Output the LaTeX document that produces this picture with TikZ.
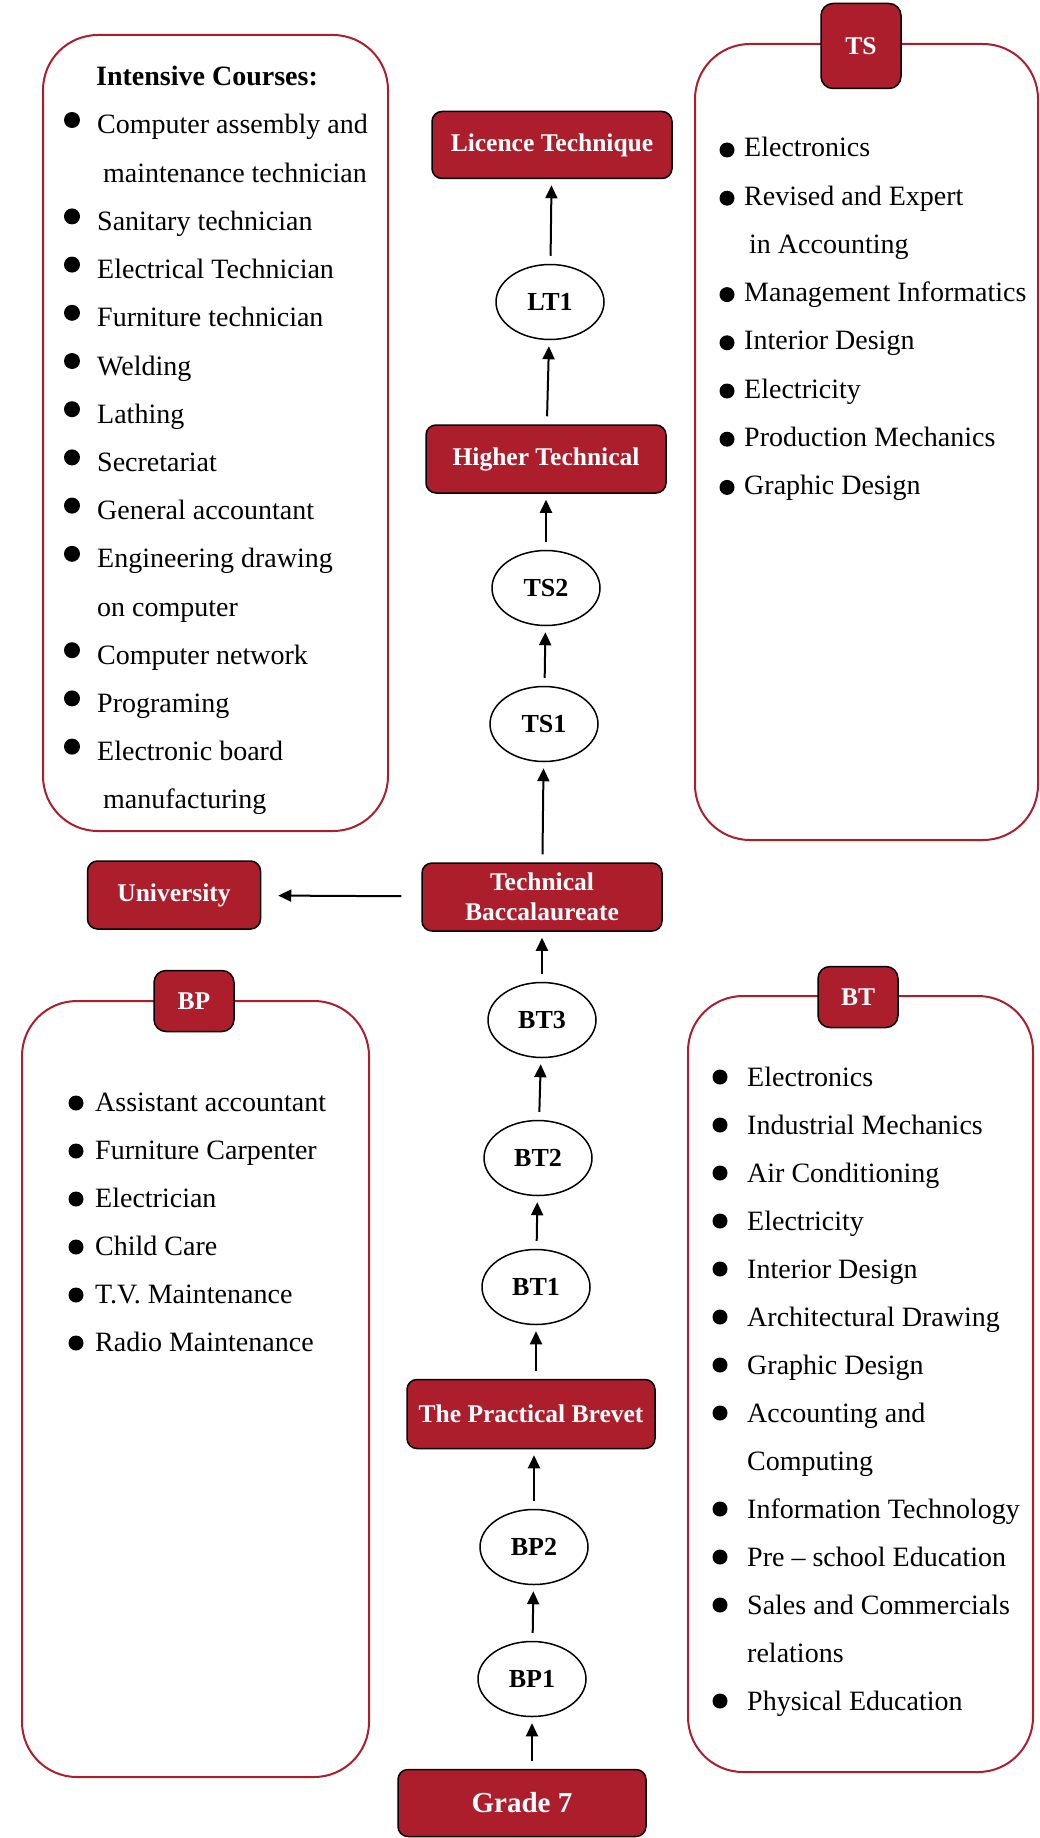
\documentclass[tikz,border=0pt]{standalone}
\usepackage{fontspec}
\setmainfont{Liberation Serif}
\usetikzlibrary{arrows.meta,shapes.geometric}
\definecolor{brick}{RGB}{173,30,45}

\begin{document}
\begin{tikzpicture}[x=1pt,y=-1pt]
        \tikzset{stagebox/.style={draw=black, line width=1.5pt, fill=brick, rounded corners=10pt, text=white,
                        font=\fontsize{25.5}{30}\selectfont\bfseries, minimum height=68pt, inner sep=2pt},
                yearnode/.style={ellipse, draw, line width=1.5pt, minimum width=108pt, minimum height=75pt,
                        inner sep=0pt, font=\fontsize{26}{30}\selectfont\bfseries},
                tagbox/.style={stagebox, minimum width=80pt, minimum height=61pt, rounded corners=12pt},
                panelbox/.style={draw=brick, line width=2pt, rounded corners=55pt},
                listentry/.style={anchor=base west, inner sep=0pt, font=\fontsize{28}{34}\selectfont},
                arr/.style={-{Triangle[width=12pt,length=13pt]}, line width=2pt, shorten <=8pt, shorten >=6pt}}
        \useasboundingbox (0,0) rectangle (1039,1838);

        \draw[panelbox] (43,35) rectangle (388,831);
        \draw[panelbox] (695,44) rectangle (1038,840);
        \draw[panelbox] (22,1001) rectangle (369,1777);
        \draw[panelbox] (688,996) rectangle (1033,1772);

        \node[tagbox, minimum height=85pt] (tsTag) at (861,46) {TS};
        \node[tagbox] (bpTag) at (194,1001) {BP};
        \node[tagbox] (btTag) at (858,997) {BT};

        \node[stagebox, minimum width=240pt, minimum height=67pt] (licence) at (552,145) {Licence Technique};
        \node[yearnode] (lt1) at (550,302) {LT1};
        \node[stagebox, minimum width=240pt] (higher) at (546,459) {Higher Technical};
        \node[yearnode] (ts2) at (546,588) {TS2};
        \node[yearnode] (ts1) at (544,724) {TS1};
        \node[stagebox, minimum width=240pt, align=center] (bac) at (542,897) {Technical\\Baccalaureate};
        \node[stagebox, minimum width=173pt] (univ) at (174,895) {University};
        \node[yearnode] (bt3) at (542,1020) {BT3};
        \node[yearnode] (bt2) at (538,1158) {BT2};
        \node[yearnode] (bt1) at (536,1287) {BT1};
        \node[stagebox, minimum width=248pt, minimum height=69pt] (brevet) at (531,1414) {The Practical Brevet};
        \node[yearnode] (bp2) at (534,1547) {BP2};
        \node[yearnode] (bp1) at (532,1679) {BP1};
        \node[stagebox, minimum width=248pt, minimum height=67pt, font=\fontsize{29}{34}\selectfont\bfseries] (grade) at (522,1803) {Grade 7};

        \draw[arr] (grade.north -| bp1) -- (bp1);
        \draw[arr] (bp1) -- (bp2);
        \draw[arr] (bp2.north) -- (brevet.south -| bp2);
        \draw[arr] (brevet.north -| bt1) -- (bt1);
        \draw[arr] (bt1) -- (bt2);
        \draw[arr] (bt2) -- (bt3);
        \draw[arr] (bt3) -- (bac);
        \draw[arr, shorten <=20pt, shorten >=17pt] (bac) -- (univ);
        \draw[arr] (bac) -- (ts1);
        \draw[arr] (ts1) -- (ts2);
        \draw[arr] (ts2) -- (higher);
        \draw[arr] (higher) -- (lt1);
        \draw[arr] (lt1) -- (licence);

        \node[listentry, font=\fontsize{28}{34}\selectfont\bfseries] (icHead) at (96,86) {Intensive Courses:};
        \foreach \bul/\dx/\txt [count=\i from 0] in {1/0/Computer assembly and, 0/6/maintenance technician,
                1/0/Sanitary technician, 1/0/Electrical Technician, 1/0/Furniture technician, 1/0/Welding,
                1/0/Lathing, 1/0/Secretariat, 1/0/General accountant, 1/0/Engineering drawing, 0/0/on computer,
                1/0/Computer network, 1/0/Programing, 1/0/Electronic board, 0/6/manufacturing}{
                \node[listentry] (icItem\i) at (97+\dx, 134+48.2*\i) {\txt};
                \ifnum\bul=1 \fill (72, 120+48.2*\i) circle (8pt); \fi
        }
        \foreach \bul/\dx/\txt [count=\i from 0] in {1/0/Electronics, 1/0/Revised and Expert, 0/5/in Accounting,
                1/0/Management Informatics, 1/0/Interior Design, 1/0/Electricity, 1/0/Production Mechanics,
                1/0/Graphic Design}{
                \node[listentry] (tsItem\i) at (744+\dx, 157+48.2*\i) {\txt};
                \ifnum\bul=1 \fill (727, 150+48.2*\i) circle (7.5pt); \fi
        }
        \foreach \txt [count=\i from 0] in {Assistant accountant, Furniture Carpenter, Electrician, Child Care,
                T.V. Maintenance, Radio Maintenance}{
                \node[listentry] (bpItem\i) at (95, 1111+48*\i) {\txt};
                \fill (76, 1103+48*\i) circle (7.5pt);
        }
        \foreach \bul/\txt [count=\i from 0] in {1/Electronics, 1/Industrial Mechanics, 1/Air Conditioning,
                1/Electricity, 1/Interior Design, 1/Architectural Drawing, 1/Graphic Design, 1/Accounting and,
                0/Computing, 1/Information Technology, 1/Pre – school Education, 1/Sales and Commercials,
                0/relations, 1/Physical Education}{
                \node[listentry] (btItem\i) at (747, 1086+48*\i) {\txt};
                \ifnum\bul=1 \fill (720, 1077+48*\i) circle (7.5pt); \fi
        }
\end{tikzpicture}
\end{document}
